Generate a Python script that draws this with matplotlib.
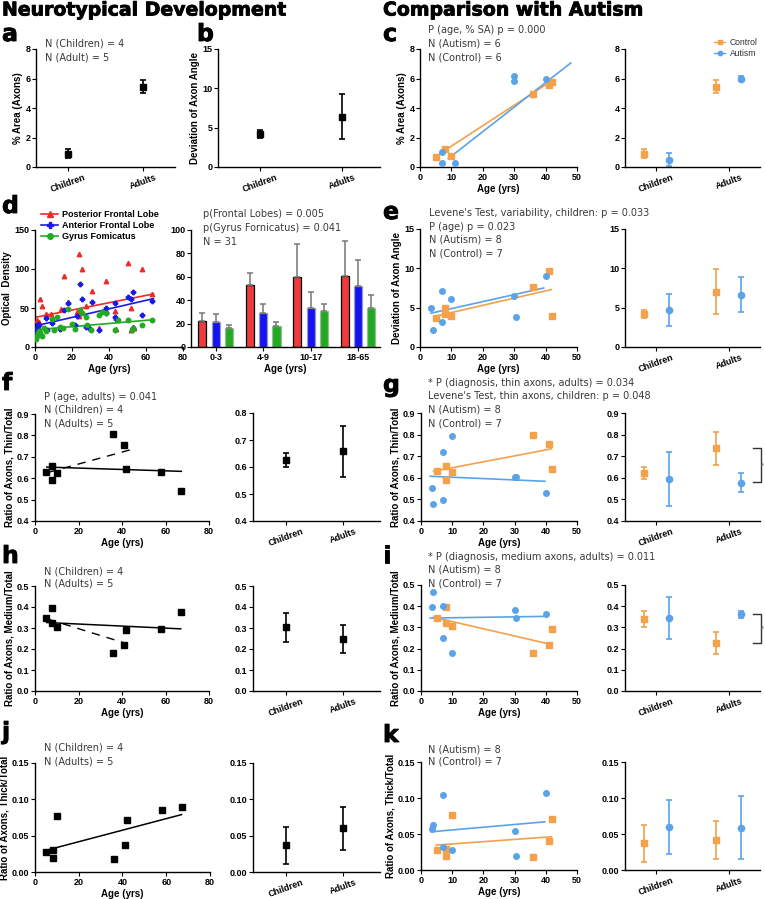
import numpy as np
import matplotlib.pyplot as plt
import matplotlib.patheffects as pe
from matplotlib.lines import Line2D

# ---------------- data ----------------
groups = ['Children', 'Adults']

# a / b : neurotypical group means (SEM)
a_mean = [0.9, 5.45]
a_sem = [0.3, 0.45]
b_mean = [4.2, 6.4]
b_sem = [0.5, 2.9]

# c : % area vs age
c_ctrl_age = [5, 8, 10, 36, 41, 42]
c_ctrl_val = [0.65, 1.2, 0.75, 4.95, 5.55, 5.75]
c_aut_age = [7, 7, 11, 30, 30, 40]
c_aut_val = [1.0, 0.3, 0.3, 6.15, 5.8, 5.95]
c_ctrl_fit = ([4.5, 42], [0.65, 5.85])
c_aut_fit = ([9, 48], [0.57, 7.05])
c_ctrl_mean = [0.9, 5.45]
c_ctrl_sem = [0.3, 0.42]
c_aut_mean = [0.5, 6.0]
c_aut_sem = [0.42, 0.15]

# d : optical density vs age, three regions
post_age = [0.5, 1, 1, 1.5, 2, 2.7, 4, 6, 8.6, 14, 15.5, 18, 22.5, 24, 25.4, 27.6,
            30.6, 34.6, 38.4, 38.4, 43, 43.6, 50, 52, 52, 53, 53.5, 58, 63, 24, 1]
post_od = [15, 18, 22, 28, 32, 62, 52, 42, 42, 49, 91, 58, 45, 119, 100, 53,
           72, 24, 85, 47, 46, 23, 108, 50, 22, 26, 24, 100, 68, 40, 35]
ant_age = [0.5, 1, 1.5, 2.3, 5.8, 6.6, 9, 13.5, 15.7, 17.7, 21.6, 22.9, 24.3, 25.4, 27.6, 30.6,
           34.6, 38.4, 38.4, 43, 43.6, 51.7, 53, 58, 63, 53, 1, 2, 29, 43, 50]
ant_od = [20, 25, 30, 28, 37, 22, 31, 23, 47, 57, 28, 40, 81, 62, 26, 58,
          22, 50, 44, 57, 36, 62, 70, 41, 59, 25, 16, 19, 24, 38, 64]
gyr_age = [0.5, 1, 1.5, 2, 2.7, 3.6, 6, 9, 13.5, 15.3, 18, 21.6, 24.3, 25.4, 27.6, 30.3,
           34.6, 38.4, 43, 50, 52.6, 53, 58, 63, 5, 10, 20, 36, 45, 12, 28]
gyr_od = [10, 14, 18, 20, 18, 14, 21, 36, 26, 24, 49, 23, 47, 44, 38, 22,
          41, 43, 22, 34, 22, 24, 28, 34, 25, 22, 30, 45, 35, 38, 28]
post_fit = ([0, 64], [38, 68])
ant_fit = ([0, 64], [27, 62])
gyr_fit = ([0, 64], [22, 35])

age_bins = ['0-3', '4-9', '10-17', '18-65']
post_bar = [22, 53, 60, 61]
post_err = [7, 10, 28, 30]
ant_bar = [21, 29, 33, 52]
ant_err = [7, 8, 14, 22]
gyr_bar = [16, 18, 31, 33]
gyr_err = [2.5, 3.5, 5.5, 11.5]

# e, g, i, k : autism vs control
ctrl_age = [5, 8, 8, 10, 36, 41, 42]
aut_age = [3.5, 4, 7, 7, 10, 30, 30.5, 40]

e_ctrl = [3.66, 4.9, 4.2, 4.0, 7.6, 9.6, 4.0]
e_aut = [5.0, 2.1, 7.1, 3.2, 6.1, 6.5, 3.8, 9.0]
e_ctrl_fit = ([4.8, 41.8], [3.9, 7.3])
e_aut_fit = ([3.5, 39.4], [4.3, 7.5])
e_ctrl_mean = [4.2, 7.05]
e_ctrl_sem = [0.55, 2.85]
e_aut_mean = [4.7, 6.65]
e_aut_sem = [2.05, 2.25]

g_ctrl = [0.630, 0.653, 0.592, 0.625, 0.80, 0.755, 0.642]
g_aut = [0.553, 0.477, 0.72, 0.495, 0.793, 0.604, 0.604, 0.53]
g_ctrl_fit = ([4.0, 41.8], [0.630, 0.734])
g_aut_fit = ([3.0, 39.7], [0.607, 0.584])
g_ctrl_mean = [0.623, 0.736]
g_ctrl_sem = [0.027, 0.076]
g_aut_mean = [0.594, 0.578]
g_aut_sem = [0.126, 0.043]
g_bracket = [0.737, 0.579]

i_ctrl = [0.344, 0.394, 0.32, 0.305, 0.18, 0.219, 0.292]
i_aut = [0.394, 0.469, 0.403, 0.25, 0.18, 0.38, 0.344, 0.364]
i_ctrl_fit = ([4.0, 41], [0.348, 0.222])
i_aut_fit = ([3.0, 39.7], [0.344, 0.352])
i_ctrl_mean = [0.34, 0.225]
i_ctrl_sem = [0.039, 0.051]
i_aut_mean = [0.345, 0.362]
i_aut_sem = [0.1, 0.017]
i_bracket = [0.364, 0.227]

k_ctrl = [0.0277, 0.029, 0.0194, 0.0762, 0.0175, 0.040, 0.0706]
k_aut = [0.0568, 0.0623, 0.1048, 0.0323, 0.0277, 0.0545, 0.0199, 0.1071]
k_ctrl_fit = ([4.9, 41.8], [0.0346, 0.0462])
k_aut_fit = ([3.3, 39.7], [0.0531, 0.0669])
k_ctrl_mean = [0.037, 0.042]
k_ctrl_sem = [0.0255, 0.0265]
k_aut_mean = [0.060, 0.059]
k_aut_sem = [0.0375, 0.0435]

# f, h, j : neurotypical axon ratios vs age
nt_age = [5, 8, 8, 10, 36, 41, 42, 58, 67]
f_val = [0.627, 0.655, 0.59, 0.624, 0.805, 0.754, 0.644, 0.627, 0.542]
f_fit = ([5.4, 67.3], [0.652, 0.632])
f_fit_dash = ([6, 45], [0.627, 0.736])
f_mean = [0.625, 0.658]
f_sem = [0.026, 0.094]

h_val = [0.347, 0.394, 0.323, 0.304, 0.181, 0.221, 0.292, 0.295, 0.374]
h_fit = ([5.4, 67], [0.326, 0.296])
h_fit_dash = ([6, 42], [0.342, 0.226])
h_mean = [0.303, 0.248]
h_sem = [0.068, 0.068]

j_val = [0.028, 0.030, 0.019, 0.077, 0.018, 0.037, 0.072, 0.085, 0.089]
j_fit = ([5.3, 67], [0.030, 0.079])
j_mean = [0.037, 0.060]
j_sem = [0.0255, 0.030]

# ---------------- styling ----------------
ORANGE = '#F5A04A'
BLUE = '#5BA3E8'
TXT = '#3a3a3a'

plt.rcParams.update({
    'font.family': ['Liberation Sans', 'DejaVu Sans'],
    'font.weight': 'bold',
    'axes.labelweight': 'bold',
    'axes.labelsize': 7,
    'axes.linewidth': 1.0,
    'xtick.labelsize': 6.5,
    'ytick.labelsize': 6.5,
    'xtick.major.size': 3,
    'ytick.major.size': 3,
    'xtick.major.pad': 1.5,
    'ytick.major.pad': 1,
    'axes.labelpad': 2,
})

W, H = 765, 899
fig = plt.figure(figsize=(W / 100, H / 100), dpi=100)
heavy = [pe.withStroke(linewidth=0.6, foreground='black')]


def ax_at(l, r, t, b):
    ax = fig.add_axes([l / W, 1 - b / H, (r - l) / W, (b - t) / H])
    ax.spines['top'].set_visible(False)
    ax.spines['right'].set_visible(False)
    return ax


def note(x, y, lines, step=13.5):
    for n, s in enumerate(lines):
        fig.text(x / W, 1 - (y + n * step) / H, s, fontsize=7.0, color=TXT,
                 family='DejaVu Sans', weight='normal', va='center')


def letter(x, y, s):
    fig.text(x / W, 1 - y / H, s, fontsize=17, weight='heavy',
             family='DejaVu Sans', va='center', path_effects=heavy)


def cat_axis(ax, xlim):
    ax.set_xlim(*xlim)
    ax.set_xticks([0, 1])
    ax.set_xticklabels(groups, rotation=20)


def nt_group(ax, mean, sem):
    ax.errorbar([0, 1], mean, yerr=sem, fmt='s', color='black', ms=4.5,
                capsize=2.5, elinewidth=1.2, capthick=1.2)


def cmp_group(ax, cm, cs, am, asem, off=0.17):
    ax.errorbar(np.array([0, 1]) - off, cm, yerr=cs, fmt='s', color=ORANGE, ms=4.5,
                capsize=2.5, elinewidth=1.2, capthick=1.2)
    ax.errorbar(np.array([0, 1]) + off, am, yerr=asem, fmt='o', color=BLUE, ms=4.5,
                capsize=2.5, elinewidth=1.2, capthick=1.2)
    cat_axis(ax, (-0.43, 1.43))


def cmp_scatter(ax, cv, av, cfit, afit):
    ax.plot(ctrl_age, cv, 's', color=ORANGE, ms=4, zorder=3)
    ax.plot(aut_age, av, 'o', color=BLUE, ms=4, zorder=3)
    ax.plot(*cfit, color=ORANGE, lw=1.2)
    ax.plot(*afit, color=BLUE, lw=1.2)
    ax.set_xlim(0, 50)
    ax.set_xticks([0, 10, 20, 30, 40, 50])


def bracket(ax, ys):
    ax.plot([1.33, 1.44, 1.44, 1.33], [ys[0], ys[0], ys[1], ys[1]],
            color='#333333', lw=1, clip_on=False)
    ax.text(1.46, (ys[0] + ys[1]) / 2, '*', fontsize=5.5, color='#777777',
            ha='center', va='center', clip_on=False)


# titles
fig.text(2 / W, 1 - 10 / H, 'Neurotypical Development', fontsize=13.6,
         weight='heavy', family='DejaVu Sans', va='center', path_effects=heavy)
fig.text(383 / W, 1 - 10 / H, 'Comparison with Autism', fontsize=13.6,
         weight='heavy', family='DejaVu Sans', va='center', path_effects=heavy)

# ---- a ----
ax = ax_at(36, 175, 49, 167)
nt_group(ax, a_mean, a_sem)
cat_axis(ax, (-0.42, 1.42))
ax.set_ylim(0, 8)
ax.set_yticks([0, 2, 4, 6, 8])
ax.set_ylabel('% Area (Axons)')
letter(2, 34, 'a')
note(45, 44, ['N (Children) = 4', 'N (Adult) = 5'])

# ---- b ----
ax = ax_at(218, 380, 49, 167)
nt_group(ax, b_mean, b_sem)
cat_axis(ax, (-0.51, 1.46))
ax.set_ylim(0, 15)
ax.set_yticks([0, 5, 10, 15])
ax.set_ylabel('Deviation of Axon Angle')
letter(197, 34, 'b')

# ---- c ----
ax = ax_at(420, 577, 49, 167)
ax.plot(c_ctrl_age, c_ctrl_val, 's', color=ORANGE, ms=4, zorder=3)
ax.plot(c_aut_age, c_aut_val, 'o', color=BLUE, ms=4, zorder=3)
ax.plot(*c_ctrl_fit, color=ORANGE, lw=1.2)
ax.plot(*c_aut_fit, color=BLUE, lw=1.2)
ax.set_xlim(0, 50)
ax.set_xticks([0, 10, 20, 30, 40, 50])
ax.set_ylim(0, 8)
ax.set_yticks([0, 2, 4, 6, 8])
ax.set_ylabel('% Area (Axons)')
ax.set_xlabel('Age (yrs)', labelpad=1)
letter(383, 34, 'c')
note(428, 30, ['P (age, % SA) p = 0.000', 'N (Autism) = 6', 'N (Control) = 6'])

ax = ax_at(625, 760, 49, 167)
cmp_group(ax, c_ctrl_mean, c_ctrl_sem, c_aut_mean, c_aut_sem)
ax.set_ylim(0, 8)
ax.set_yticks([0, 2, 4, 6, 8])
handles = [Line2D([], [], color=ORANGE, marker='s', ms=3.2, lw=1),
           Line2D([], [], color=BLUE, marker='o', ms=3.2, lw=1)]
fig.legend(handles, ['Control', 'Autism'], loc='center left',
           bbox_to_anchor=(708 / W, 1 - 48 / H), frameon=False, handlelength=1.3,
           handletextpad=0.5, labelspacing=0.15, borderpad=0.2,
           prop={'size': 6.2, 'weight': 'normal'}, labelcolor='#333333')

# ---- d ----
ax = ax_at(35, 183, 230, 347)
ax.plot(post_age, post_od, '^', color='#EE2A2A', ms=3.2, zorder=3)
ax.plot(ant_age, ant_od, 'P', color='#1A1AE6', ms=3.2, zorder=3)
ax.plot(gyr_age, gyr_od, 'o', color='#22AA22', ms=3.2, zorder=3)
ax.plot(*post_fit, color='#EE2A2A', lw=1.2)
ax.plot(*ant_fit, color='#1A1AE6', lw=1.2)
ax.plot(*gyr_fit, color='#22AA22', lw=1.2)
ax.set_xlim(0, 80)
ax.set_xticks([0, 20, 40, 60, 80])
ax.set_ylim(0, 150)
ax.set_yticks([0, 50, 100, 150])
ax.set_ylabel('Optical  Density')
ax.set_xlabel('Age (yrs)', labelpad=1)
handles = [Line2D([], [], color='#EE2A2A', marker='^', ms=4, lw=1.2),
           Line2D([], [], color='#1A1AE6', marker='P', ms=4, lw=1.2),
           Line2D([], [], color='#22AA22', marker='o', ms=4, lw=1.2)]
fig.legend(handles, ['Posterior Frontal Lobe', 'Anterior Frontal Lobe', 'Gyrus Fomicatus'],
           loc='upper left', bbox_to_anchor=(33 / W, 1 - 202 / H), frameon=False,
           handlelength=1.9, handletextpad=0.4, labelspacing=0.2,
           prop={'size': 6.5, 'weight': 'bold'})
letter(2, 206, 'd')

ax = ax_at(191, 380, 230, 347)
xb = np.arange(len(age_bins))
bw = 0.17
ekw = dict(ecolor='#777777', elinewidth=1.1, capthick=1.1, capsize=2.5)
ax.bar(xb - 0.28, post_bar, bw, color='#EE3B3B', edgecolor='black', lw=0.9,
       yerr=[np.zeros(4), post_err], error_kw=ekw)
ax.bar(xb, ant_bar, bw, color='#1414F0', edgecolor='#9999BB', lw=0.9,
       yerr=[np.zeros(4), ant_err], error_kw=ekw)
ax.bar(xb + 0.28, gyr_bar, bw, color='#22AA22', edgecolor='#99BB99', lw=0.9,
       yerr=[np.zeros(4), gyr_err], error_kw=ekw)
ax.set_xlim(-0.52, 3.46)
ax.set_xticks(xb)
ax.set_xticklabels(age_bins)
ax.set_ylim(0, 100)
ax.set_yticks([0, 20, 40, 60, 80, 100])
ax.set_xlabel('Age (yrs)', labelpad=1)
note(203, 214, ['p(Frontal Lobes) = 0.005', 'p(Gyrus Fornicatus) = 0.041', 'N = 31'], step=14)

# ---- e ----
ax = ax_at(420, 577, 229, 347)
cmp_scatter(ax, e_ctrl, e_aut, e_ctrl_fit, e_aut_fit)
ax.set_ylim(0, 15)
ax.set_yticks([0, 5, 10, 15])
ax.set_ylabel('Deviation of Axon Angle')
ax.set_xlabel('Age (yrs)', labelpad=1)
letter(383, 212, 'e')
note(429, 213, ["Levene's Test, variability, children: p = 0.033", 'P (age) p = 0.023',
                'N (Autism) = 8', 'N (Control) = 7'])

ax = ax_at(625, 760, 229, 347)
cmp_group(ax, e_ctrl_mean, e_ctrl_sem, e_aut_mean, e_aut_sem)
ax.set_ylim(0, 15)
ax.set_yticks([0, 5, 10, 15])

# ---- f ----
ax = ax_at(35, 209, 414, 521)
ax.plot(nt_age, f_val, 's', color='black', ms=4, zorder=3)
ax.plot(*f_fit, color='black', lw=1.1)
ax.plot(*f_fit_dash, color='black', lw=1.0, ls=(0, (6, 5)))
ax.set_xlim(0, 80)
ax.set_xticks([0, 20, 40, 60, 80])
ax.set_ylim(0.4, 0.9)
ax.set_yticks([0.4, 0.5, 0.6, 0.7, 0.8, 0.9])
ax.set_ylabel('Ratio of Axons, Thin/Total')
ax.set_xlabel('Age (yrs)', labelpad=1)
letter(2, 383, 'f')
note(44, 397, ['P (age, adults) = 0.041', 'N (Children) = 4', 'N (Adults) = 5'], step=13)

ax = ax_at(253, 380, 413, 521)
nt_group(ax, f_mean, f_sem)
cat_axis(ax, (-0.58, 1.65))
ax.set_ylim(0.4, 0.8)
ax.set_yticks([0.4, 0.5, 0.6, 0.7, 0.8])

# ---- g ----
ax = ax_at(421, 577, 413, 521)
cmp_scatter(ax, g_ctrl, g_aut, g_ctrl_fit, g_aut_fit)
ax.set_ylim(0.4, 0.9)
ax.set_yticks([0.4, 0.5, 0.6, 0.7, 0.8, 0.9])
ax.set_ylabel('Ratio of Axons, Thin/Total')
ax.set_xlabel('Age (yrs)', labelpad=1)
letter(383, 385, 'g')
note(428, 383, ['* P (diagnosis, thin axons, adults) = 0.034',
                "Levene's Test, thin axons, children: p = 0.048",
                'N (Autism) = 8', 'N (Control) = 7'])

ax = ax_at(625, 760, 413, 521)
cmp_group(ax, g_ctrl_mean, g_ctrl_sem, g_aut_mean, g_aut_sem)
ax.set_ylim(0.4, 0.9)
ax.set_yticks([0.4, 0.5, 0.6, 0.7, 0.8, 0.9])
bracket(ax, g_bracket)

# ---- h ----
ax = ax_at(35, 209, 586, 691)
ax.plot(nt_age, h_val, 's', color='black', ms=4, zorder=3)
ax.plot(*h_fit, color='black', lw=1.1)
ax.plot(*h_fit_dash, color='black', lw=1.0, ls=(0, (6, 5)))
ax.set_xlim(0, 80)
ax.set_xticks([0, 20, 40, 60, 80])
ax.set_ylim(0, 0.5)
ax.set_yticks([0, 0.1, 0.2, 0.3, 0.4, 0.5])
ax.set_ylabel('Ratio of Axons, Medium/Total')
ax.set_xlabel('Age (yrs)', labelpad=1)
letter(2, 556, 'h')
note(44, 572, ['N (Children) = 4', 'N (Adults) = 5'], step=12)

ax = ax_at(253, 380, 586, 691)
nt_group(ax, h_mean, h_sem)
cat_axis(ax, (-0.58, 1.65))
ax.set_ylim(0, 0.5)
ax.set_yticks([0, 0.1, 0.2, 0.3, 0.4, 0.5])

# ---- i ----
ax = ax_at(421, 577, 585, 691)
cmp_scatter(ax, i_ctrl, i_aut, i_ctrl_fit, i_aut_fit)
ax.set_ylim(0, 0.5)
ax.set_yticks([0, 0.1, 0.2, 0.3, 0.4, 0.5])
ax.set_ylabel('Ratio of Axons, Medium/Total')
ax.set_xlabel('Age (yrs)', labelpad=1)
letter(383, 556, 'i')
note(428, 557, ['* P (diagnosis, medium axons, adults) = 0.011',
                'N (Autism) = 8', 'N (Control) = 7'], step=13)

ax = ax_at(625, 760, 585, 691)
cmp_group(ax, i_ctrl_mean, i_ctrl_sem, i_aut_mean, i_aut_sem)
ax.set_ylim(0, 0.5)
ax.set_yticks([0, 0.1, 0.2, 0.3, 0.4, 0.5])
bracket(ax, i_bracket)

# ---- j ----
ax = ax_at(35, 210, 763, 872)
ax.plot(nt_age, j_val, 's', color='black', ms=4, zorder=3)
ax.plot(*j_fit, color='black', lw=1.1)
ax.set_xlim(0, 80)
ax.set_xticks([0, 20, 40, 60, 80])
ax.set_ylim(0, 0.15)
ax.set_yticks([0, 0.05, 0.10, 0.15])
ax.set_yticklabels(['0.00', '0.05', '0.10', '0.15'])
ax.set_ylabel('Ratio of Axons, Thick/Total')
ax.set_xlabel('Age (yrs)', labelpad=1)
letter(2, 732, 'j')
note(44, 748, ['N (Children) = 4', 'N (Adults) = 5'], step=14)

ax = ax_at(253, 380, 763, 872)
nt_group(ax, j_mean, j_sem)
cat_axis(ax, (-0.58, 1.65))
ax.set_ylim(0, 0.15)
ax.set_yticks([0, 0.05, 0.10, 0.15])
ax.set_yticklabels(['0.00', '0.05', '0.10', '0.15'])

# ---- k ----
ax = ax_at(421, 577, 762, 870)
cmp_scatter(ax, k_ctrl, k_aut, k_ctrl_fit, k_aut_fit)
ax.set_ylim(0, 0.15)
ax.set_yticks([0, 0.05, 0.10, 0.15])
ax.set_yticklabels(['0.00', '0.05', '0.10', '0.15'])
ax.set_ylabel('Ratio of Axons, Thick/Total')
ax.set_xlabel('Age (yrs)', labelpad=1)
letter(383, 735, 'k')
note(428, 749, ['N (Autism) = 8', 'N (Control) = 7'], step=13)

ax = ax_at(625, 760, 762, 870)
cmp_group(ax, k_ctrl_mean, k_ctrl_sem, k_aut_mean, k_aut_sem)
ax.set_ylim(0, 0.15)
ax.set_yticks([0, 0.05, 0.10, 0.15])
ax.set_yticklabels(['0.00', '0.05', '0.10', '0.15'])

fig.savefig('out.png', dpi=100)
